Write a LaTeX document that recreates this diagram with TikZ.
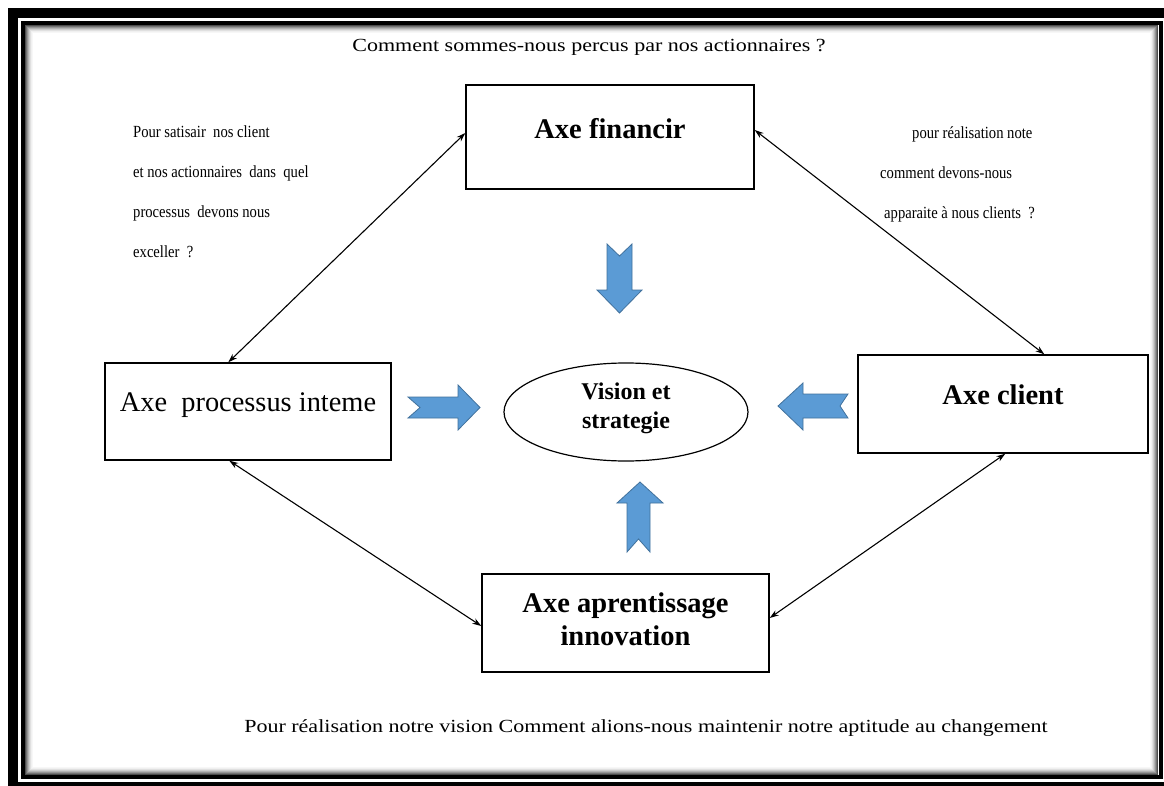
\documentclass[tikz,border=0pt]{standalone}
\usepackage{fontspec}
\setmainfont{Liberation Serif}
\newfontfamily\condfont{Liberation Serif}[FakeStretch=0.86]
\newfontfamily\widefont{Liberation Serif}[FakeStretch=1.19]
\usetikzlibrary{arrows.meta,shapes.geometric}
\definecolor{arrowblue}{HTML}{5B9BD5}
\definecolor{arrowedge}{HTML}{41719C}
\begin{document}
\begin{tikzpicture}[x=1pt,y=-1pt,
  axebox/.style={draw,line width=1.4pt,inner sep=0pt,align=center,text depth=18pt},
  boldlabel/.style={font=\fontsize{28.5}{33}\selectfont\bfseries},
  conn/.style={line width=1.1pt,{Stealth[length=9pt,width=6pt]}-{Stealth[length=9pt,width=6pt]}},
  bluearrow/.style={fill=arrowblue,draw=arrowedge,line width=0.8pt,line join=miter},
  sidetext/.style={font=\condfont\fontsize{17}{40}\selectfont,align=left,inner sep=0pt},
  question/.style={font=\widefont\fontsize{18.5}{22}\selectfont,inner sep=0pt}]
\useasboundingbox (0,0) rectangle (1164,786);
% frame
\fill[white] (0,0) rectangle (1164,786);
\fill[black] (8,8) rectangle (1164,786);
\fill[white] (18,18) rectangle (1164,782);
\foreach \i/\g in {0/70,1/55,2/42,3/30,4/20,5/12,6/6,7/3}{
  \draw[black!\g,line width=1pt] (25.5+\i,25.5+\i) rectangle (1157.5-\i,774.5-\i);
}
\draw[black,line width=4pt] (23,23) rectangle (1161,777);
% boxes
\node[axebox,boldlabel,minimum width=288pt,minimum height=104pt] (fin) at (610,137) {Axe financir};
\node[axebox,font=\fontsize{28.4}{33}\selectfont,minimum width=286pt,minimum height=97pt] (proc) at (248,411.5) {Axe\ \ processus inteme};
\node[axebox,boldlabel,minimum width=290pt,minimum height=98pt] (cli) at (1003,404) {Axe client};
\node[axebox,boldlabel,minimum width=287pt,minimum height=98pt,text depth=8pt] (apr) at (625.5,623) {Axe aprentissage\\innovation};
\node[ellipse,draw,line width=1.2pt,minimum width=244pt,minimum height=98pt,inner sep=0pt,align=center,
  font=\fontsize{24}{29}\selectfont\bfseries,text depth=12pt] (vis) at (626,412) {Vision et\\strategie};
% connectors
\draw[conn] ([yshift=4pt]fin.west) -- ([xshift=124pt]proc.north west);
\draw[conn] ([yshift=7pt]fin.east) -- ([xshift=187pt]cli.north west);
\draw[conn] ([xshift=125pt]proc.south west) -- ([yshift=-3pt]apr.west);
\draw[conn] ([yshift=5pt]apr.east) -- ([xshift=148pt]cli.south west);
% blue arrows
\draw[bluearrow] (607,244) -- (619.5,256) -- (632,244) -- (632,290) -- (642,290) -- (619.5,313) -- (597,290) -- (607,290) -- cycle;
\draw[bluearrow] (640,482) -- (663,503) -- (650,503) -- (650,552) -- (638.5,539) -- (627,552) -- (627,503) -- (617,503) -- cycle;
\draw[bluearrow] (408,397) -- (458,397) -- (458,385) -- (480,407.5) -- (458,430) -- (458,418) -- (408,418) -- (420,407.5) -- cycle;
\draw[bluearrow] (778,406) -- (803,383) -- (803,394) -- (848,394) -- (840,406) -- (848,418) -- (803,418) -- (803,430) -- cycle;
% texts
\node[question] (qtop) at (589,47) {Comment sommes-nous percus par nos actionnaires ?};
\node[question] (qbot) at (646,728) {Pour réalisation notre vision Comment alions-nous maintenir notre aptitude au changement};
\node[sidetext,anchor=north west] (qleft) at (133,126) {Pour satisair\ \ nos client\\et nos actionnaires\ \ dans\ \ quel\\processus\ \ devons nous\\exceller\ \ ?};
\node[sidetext,anchor=north west] (qright) at (880,126) {\hspace*{32pt}pour réalisation note\\comment devons-nous\\\hspace*{4pt}apparaite à nous clients\ \ ?};
\end{tikzpicture}
\end{document}
